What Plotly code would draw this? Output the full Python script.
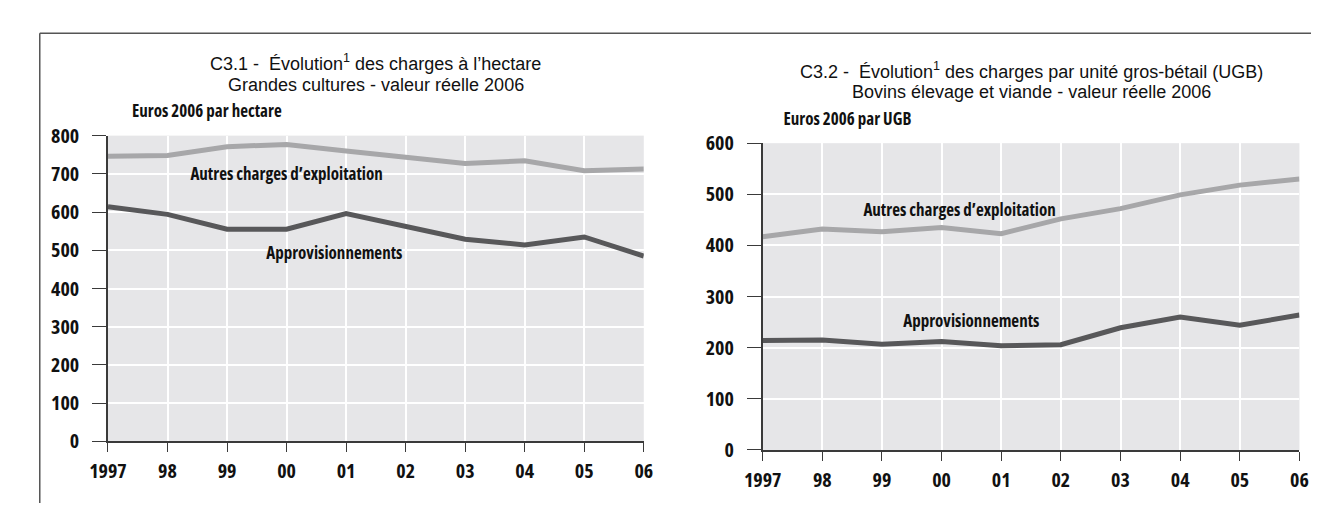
import plotly.graph_objects as go

# ---------------------------------------------------------------- data
YEARS = [1997, 1998, 1999, 2000, 2001, 2002, 2003, 2004, 2005, 2006]
YEAR_LABELS = ["1997", "98", "99", "00", "01", "02", "03", "04", "05", "06"]

# C3.1 Grandes cultures, euros 2006 par hectare
GC_AUTRES = [746, 748, 771, 777, 760, 744, 727, 734, 708, 713]
GC_APPRO = [614, 594, 555, 555, 596, 562, 529, 514, 535, 485]

# C3.2 Bovins elevage et viande, euros 2006 par UGB
BV_AUTRES = [417, 432, 427, 435, 423, 452, 472, 499, 518, 530]
BV_APPRO = [214, 215, 207, 212, 204, 206, 239, 260, 244, 264]

W, H = 1319, 508
FONT = "Open Sans"          # drawn condensed through the CSS below
TITLE_FONT = "Liberation Sans"
LIGHT, DARK = "#a7a7a9", "#58585a"
AXIS = "#3a3a3a"
INK = "#111"


def px_x(p):
    return p / W


def px_y(p):
    return 1 - p / H


fig = go.Figure()
for xa, ya, autres, appro in [("x", "y", GC_AUTRES, GC_APPRO),
                              ("x2", "y2", BV_AUTRES, BV_APPRO)]:
    fig.add_trace(go.Scatter(x=YEARS, y=autres, mode="lines", xaxis=xa, yaxis=ya,
                             line=dict(color=LIGHT, width=5), showlegend=False,
                             hoverinfo="skip"))
    fig.add_trace(go.Scatter(x=YEARS, y=appro, mode="lines", xaxis=xa, yaxis=ya,
                             line=dict(color=DARK, width=5), showlegend=False,
                             hoverinfo="skip"))

tickfont = dict(family=FONT, size=20, color=INK, weight="bold")
xcommon = dict(range=[1997, 2006], tickmode="array", tickvals=YEARS, ticktext=YEAR_LABELS,
               showgrid=True, gridcolor="white", gridwidth=1.5, zeroline=False,
               showline=True, linecolor=AXIS, linewidth=1.5,
               ticks="outside", ticklen=9, tickwidth=1.2, tickcolor=AXIS,
               ticklabelstandoff=2, tickfont=tickfont)
ycommon = dict(dtick=100, showgrid=True, gridcolor="white", gridwidth=1.5, zeroline=False,
               showline=True, linecolor=AXIS, linewidth=1.5,
               ticks="outside", ticklen=14, tickwidth=1.2, tickcolor=AXIS,
               ticklabelstandoff=9, tickfont=tickfont)

fig.update_layout(
    width=W, height=H, margin=dict(l=0, r=0, t=0, b=0),
    paper_bgcolor="white", plot_bgcolor="#e6e6e8",
    xaxis=dict(domain=[px_x(79), px_x(629)], anchor="y", **xcommon),
    yaxis=dict(domain=[px_y(443), px_y(120)], anchor="x", range=[0, 800], **ycommon),
    xaxis2=dict(domain=[px_x(751), px_x(1302)], anchor="y2", **xcommon),
    yaxis2=dict(domain=[px_y(452), px_y(128)], anchor="x2", range=[0, 600], **ycommon),
)

# titles and unit labels, placed relative to each plot area
panels = [
    ("x", "y", "C3.1 -  Évolution<sup>1</sup> des charges à l’hectare",
     "Grandes cultures - valeur réelle 2006", "Euros 2006 par hectare"),
    ("x2", "y2", "C3.2 -  Évolution<sup>1</sup> des charges par unité gros-bétail (UGB)",
     "Bovins élevage et viande - valeur réelle 2006", "Euros 2006 par UGB"),
]
for xa, ya, t1, t2, unit in panels:
    for txt, shift in [(t1, 73), (t2, 51)]:
        fig.add_annotation(text=txt, xref=f"{xa} domain", yref=f"{ya} domain",
                           x=0.5, y=1, yshift=shift, showarrow=False,
                           xanchor="center", yanchor="middle",
                           font=dict(family=TITLE_FONT, size=18, color=INK))
    fig.add_annotation(text=unit, xref=f"{xa} domain", yref=f"{ya} domain",
                       x=0, y=1, yshift=25, showarrow=False,
                       xanchor="left", yanchor="middle",
                       font=dict(family=FONT, size=17, color=INK, weight="bold"))

# series labels inside the plots
LABELS = [("x", "y", 2000.0, 700, "Autres charges d’exploitation"),
          ("x", "y", 2000.8, 493, "Approvisionnements"),
          ("x2", "y2", 2000.3, 470, "Autres charges d’exploitation"),
          ("x2", "y2", 2000.5, 254, "Approvisionnements")]
for xa, ya, x, y, txt in LABELS:
    fig.add_annotation(text=txt, xref=xa, yref=ya, x=x, y=y, showarrow=False,
                       xanchor="center", yanchor="middle",
                       font=dict(family=FONT, size=17, color=INK, weight="bold"))

# frame: top rule and left rule
fig.add_shape(type="line", xref="paper", yref="paper",
              x0=px_x(9), y0=px_y(12), x1=1, y1=px_y(12),
              line=dict(color="#555", width=1.5))
fig.add_shape(type="line", xref="paper", yref="paper",
              x0=px_x(9), y0=0, x1=px_x(9), y1=px_y(12),
              line=dict(color="#555", width=1.5))

# condensed face of the variable Open Sans, like the original condensed type
CSS = ("var s=document.createElement('style');"
       "s.textContent='text{font-stretch:75% !important;}';"
       "document.head.appendChild(s);")
fig.write_html("out.html", post_script=CSS)
